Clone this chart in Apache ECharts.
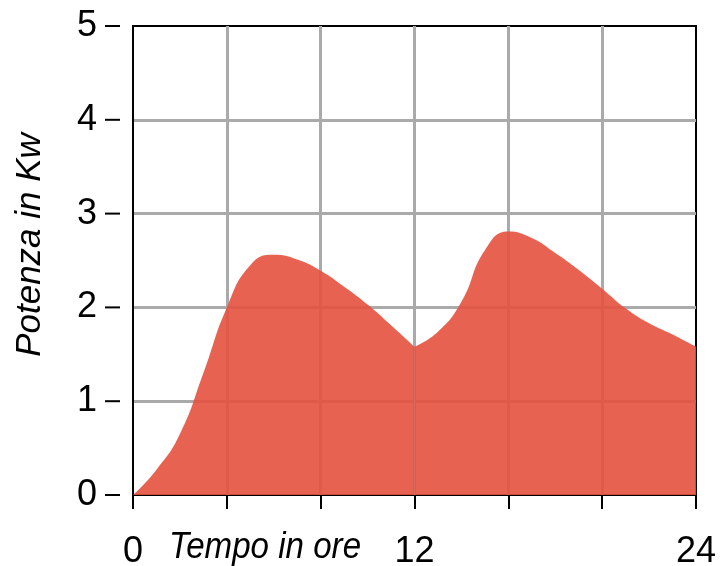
<!DOCTYPE html>
<html>
<head>
<meta charset="utf-8">
<script src="https://cdn.jsdelivr.net/npm/echarts@6/dist/echarts.min.js"></script>
<style>
  html, body { margin: 0; padding: 0; background: #fff; }
  #main { width: 722px; height: 566px; }
</style>
</head>
<body>
<div id="main"></div>
<script>
const morningHours = [0, 1, 2, 3, 4, 5, 6, 7, 8, 9, 10, 11, 12];
const morningPower = [0, 0.27, 0.65, 1.30, 2.0, 2.45, 2.56, 2.51, 2.39, 2.22, 2.03, 1.81, 1.58];
const afternoonHours = [12, 13, 14, 15, 16, 17, 18, 19, 20, 21, 22, 23, 24];
const afternoonPower = [1.58, 1.74, 2.06, 2.61, 2.81, 2.74, 2.58, 2.40, 2.20, 1.99, 1.83, 1.71, 1.58];
const xLabels = [0, 12, 24];
const yLabels = [0, 1, 2, 3, 4, 5];

const FONT = '"Liberation Sans", Arial, sans-serif';

// two halves so the minimum at noon keeps its sharp corner
const areaSeries = (hs, ps) => ({
  type: 'line',
  data: hs.map((h, i) => [h, ps[i]]),
  smooth: 0.5,
  symbol: 'none',
  lineStyle: { width: 0 },
  itemStyle: { color: '#e5513f' },
  areaStyle: { color: '#e5513f', opacity: 0.9 },
  silent: true
});

const chart = echarts.init(document.getElementById('main'));
const option = {
  animation: false,
  grid: {
    left: 133, right: 26, top: 26, bottom: 71,
    outerBoundsMode: 'none',
    show: true,
    borderColor: '#000',
    borderWidth: 2
  },
  xAxis: {
    type: 'value',
    min: 0, max: 24, interval: 4,
    offset: 8,
    axisLine: { show: true, lineStyle: { color: 'rgba(0,0,0,0)' } },
    axisTick: { show: true, length: 14, lineStyle: { color: '#000', width: 2 } },
    axisLabel: {
      margin: 31,
      color: '#000',
      fontSize: 36,
      fontFamily: FONT,
      formatter: v => (xLabels.includes(v) ? String(v) : '')
    },
    splitLine: {
      show: true,
      showMinLine: false,
      showMaxLine: false,
      lineStyle: { color: '#aaa', width: 3 }
    }
  },
  yAxis: {
    type: 'value',
    min: 0, max: 5, interval: 1,
    axisLine: { show: true, lineStyle: { color: '#000', width: 2 } },
    axisTick: { show: false },
    axisLabel: {
      margin: 13,
      color: '#000',
      fontSize: 36,
      fontFamily: FONT,
      // number, gap, then the little dash tick
      formatter: v => (yLabels.includes(v) ? '{n|' + v + '}{g|}{t|}' : ''),
      rich: {
        n: { fontSize: 36, color: '#000', fontFamily: FONT },
        g: { width: 8 },
        t: { width: 15, height: 2, backgroundColor: '#000', verticalAlign: 'middle' }
      }
    },
    splitLine: {
      show: true,
      showMinLine: false,
      showMaxLine: false,
      lineStyle: { color: '#aaa', width: 3 }
    }
  },
  graphic: [
    {
      type: 'text',
      x: 30, y: 245,
      rotation: Math.PI / 2,
      style: {
        text: 'Potenza in Kw',
        font: 'italic 35px ' + FONT,
        fill: '#000',
        align: 'center', verticalAlign: 'middle',
        textAlign: 'center', textVerticalAlign: 'middle'
      }
    },
    {
      type: 'text',
      x: 265, y: 548,
      scaleX: 0.92,
      style: {
        text: 'Tempo in ore',
        font: 'italic 36px ' + FONT,
        fill: '#000',
        align: 'center', verticalAlign: 'middle',
        textAlign: 'center', textVerticalAlign: 'middle'
      }
    }
  ],
  series: [
    areaSeries(morningHours, morningPower),
    areaSeries(afternoonHours, afternoonPower)
  ]
};
chart.setOption(option);
</script>
</body>
</html>
